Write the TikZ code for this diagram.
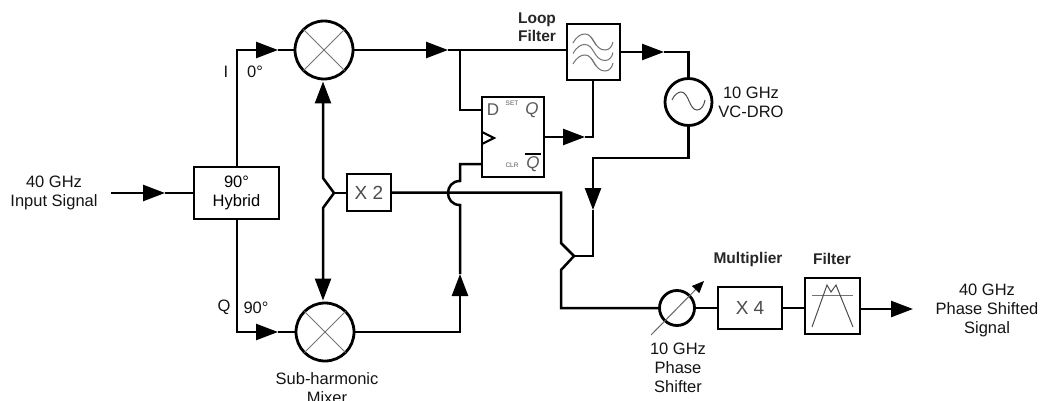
\documentclass[tikz,border=0pt]{standalone}
\usepackage{fontspec}
\setmainfont{Liberation Sans}
\usetikzlibrary{arrows.meta}
\tikzset{
  x=1pt,y=-1pt,
  wire/.style={line width=2.5pt,line join=miter,black},
  tipped/.style={wire,-{Triangle[length=22pt,width=16pt,sep=0pt]}},
  thin gray/.style={line width=1pt,draw=black!55},
  box/.style={draw=black,line width=2.6pt,inner sep=0pt,outer sep=0pt,align=center,fill=white,
    font=\fontsize{16.5}{19}\selectfont},
  ring/.style={draw=black,line width=2.8pt,circle,inner sep=0pt,outer sep=0pt},
  lab/.style={inner sep=0pt,align=center,font=\fontsize{16.5}{19}\selectfont,text=black!92},
  blab/.style={inner sep=0pt,align=center,font=\fontsize{15.5}{18.5}\selectfont\bfseries,text=black!85},
  big/.style={font=\fontsize{19}{22}\selectfont,text=black!70},
  ffl/.style={inner sep=0pt,font=\fontsize{17}{20}\selectfont,text=black!65},
  tiny/.style={inner sep=0pt,font=\fontsize{6.5}{8}\selectfont,text=black!65},
}
\begin{document}
\begin{tikzpicture}
\useasboundingbox (0,0) rectangle (1043,401);
% blocks
\node[box,minimum width=85pt,minimum height=52pt] (hyb) at (236.5,193) {90°\\Hybrid};
\node[ring,minimum size=58pt] (mxa) at (324,50) {};
\node[ring,minimum size=58pt] (mxb) at (325,332) {};
\node[box,big,minimum width=44pt,minimum height=37pt] (xtwo) at (369,192.5) {X 2};
\node[box,minimum width=53pt,minimum height=56pt] (lf) at (593.5,52) {};
\node[ring,minimum size=47pt] (osc) at (688.5,102) {};
\node[box,minimum width=62pt,minimum height=80pt] (ff) at (513,137) {};
\node[ring,minimum size=35pt] (ps) at (677,308) {};
\node[box,big,minimum width=64pt,minimum height=42pt] (xfour) at (750,308) {X 4};
\node[box,minimum width=55pt,minimum height=56pt] (flt) at (832.5,306) {};
% free ends
\coordinate (in) at (111,193);
\coordinate (intip) at (165,193);
\coordinate (ic) at (237,50);
\coordinate (itip) at (278,50);
\coordinate (qc) at (237,332);
\coordinate (qtip) at (278,332);
\coordinate (mtip) at (448,50);
\coordinate (nod) at (460,50);
\coordinate (dl) at (460,110);
\coordinate (fbtip) at (460,274);
\coordinate (fbc) at (460,332);
\coordinate (ck) at (460,164);
\coordinate (qotip) at (585,137);
\coordinate (qoc) at (593,137);
\coordinate (otip) at (664,52);
\coordinate (oc) at (688.5,52);
\coordinate (dc) at (688.5,158);
\coordinate (dd) at (593,158);
\coordinate (dtip) at (593,210);
\coordinate (dj) at (593,256);
\coordinate (outtip) at (913,309);
\coordinate (jog) at (334,193);
\coordinate (hopb) at (574,256);
% input and hybrid
\draw[tipped] (in) -- (intip);
\draw[wire] (intip) -- (hyb.west |- intip);
\draw[tipped] (hyb.north -| ic) -- (ic) -- (itip);
\draw[wire] (itip) -- (mxa.west);
\draw[tipped] (hyb.south -| qc) -- (qc) -- (qtip);
\draw[wire] (qtip) -- (mxb.west);
% mixer crosses
\foreach \m in {mxa,mxb}{
  \draw[thin gray] (\m.north west) -- (\m.south east);
  \draw[thin gray] (\m.north east) -- (\m.south west);
}
% x2 to mixers
\draw[tipped] (jog) -- (323,178) -- (323,81.5);
\draw[tipped] (jog) -- (323,208) -- (323,300.5);
\draw[wire] (xtwo.west |- jog) -- (jog);
% mixer outputs
\draw[tipped] (mxa.east) -- (mtip);
\draw[wire] (mtip) -- (lf.west |- mtip);
\draw[wire] (nod) -- (dl) -- (ff.west |- dl);
\draw[tipped] (mxb.east) -- (fbc) -- (fbtip);
\draw[wire] (fbtip) -- (460,205) .. controls (444,205) and (444,181) .. (460,181) -- (ck) -- (ff.west |- ck);
% flip-flop output
\draw[tipped] (ff.east |- qotip) -- (qotip);
\draw[wire] (qotip) -- (qoc) -- (lf.south -| qoc);
% loop filter to oscillator
\draw[tipped] (lf.east) -- (otip);
\draw[wire] (otip) -- (oc) -- (osc.north);
\draw[tipped] (osc.south) -- (dc) -- (dd) -- (dtip);
\draw[wire] (dtip) -- (dj) -- (hopb);
% x2 to phase shifter
\draw[wire] (xtwo.east) -- (561,192.5) -- (561,243) -- (hopb) -- (561,270) -- (561,308) -- (ps.west);
\draw[wire] (ps.east) -- (xfour.west);
\draw[wire] (xfour.east) -- (flt.west |- xfour.east);
\draw[tipped] (flt.east |- outtip) -- (outtip);
% phase shifter arrow
\coordinate (psa) at (651,335);
\coordinate (psb) at (704,281);
\draw[line width=1pt,draw=black!60,-{Triangle[length=12pt,width=10pt,color=black]}] (psa) -- (psb);
% flip-flop details
\draw[line width=2.2pt,line join=miter] (482,132) -- (494,138) -- (482,144);
\node[ffl] (dlab) at (493,110) {D};
\node[tiny] (setl) at (512,103) {SET};
\node[ffl] (qlab) at (532,110) {\itshape Q};
\node[tiny] (clrl) at (512,165) {CLR};
\node[ffl] (qnlab) at (533,164) {\itshape Q};
\draw[line width=2pt] ([xshift=-1pt,yshift=2pt]qnlab.north west) -- ([xshift=1pt,yshift=2pt]qnlab.north east);
% loop-filter waves
\foreach \d in {0,10.5,21}{
  \draw[thin gray] (573,43+\d) .. controls (577,36+\d) and (581,34+\d) .. (585,34+\d)
     .. controls (594,34+\d) and (594,50+\d) .. (605,50+\d)
     .. controls (609,50+\d) and (612,47+\d) .. (613,42+\d);
}
\draw[thin gray] (591,37) -- (596,45);
\draw[thin gray] (591,58) -- (596,66);
% oscillator sine
\draw[line width=1pt,draw=black!70] (672,100) .. controls (674,95) and (678,92) .. (681,92)
   .. controls (689,92) and (689,110) .. (697,110) .. controls (701,110) and (704,106) .. (705,100);
% band-pass sketch
\draw[thin gray] (812,295) -- (853,295);
\draw[line width=1pt,draw=black!70,line join=miter] (812,327) -- (827,285) -- (831,292) -- (836,285) -- (853,327);
% labels
\node[lab] (l1) at (54,193) {40 GHz\\Input Signal};
\node[lab] (l2) at (226,72) {I};
\node[lab] (l3) at (255,72) {0°};
\node[lab] (l4) at (224,307) {Q};
\node[lab] (l5) at (256,308) {90°};
\node[blab] (l6) at (537,27) {Loop\\Filter};
\node[lab] (l7) at (751,102) {10 GHz\\VC-DRO};
\node[lab] (l8) at (327,388) {Sub-harmonic\\Mixer};
\node[lab] (l9) at (678,368) {10 GHz\\Phase\\Shifter};
\node[blab] (l10) at (748,259) {Multiplier};
\node[blab] (l11) at (832,259) {Filter};
\node[lab] (l12) at (987,310) {40 GHz\\Phase Shifted\\Signal};
\end{tikzpicture}
\end{document}
